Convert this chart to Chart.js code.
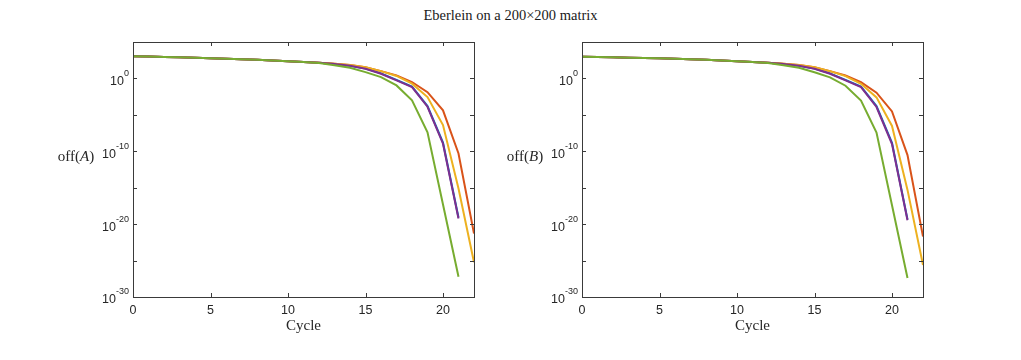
<!DOCTYPE html>
<html>
<head>
<meta charset="utf-8">
<script src="https://cdn.jsdelivr.net/npm/chart.js@4.4.0/dist/chart.umd.min.js"></script>
<style>
  body { margin: 0; background: #fff; width: 1021px; height: 360px; position: relative; overflow: hidden; }
  #title { position: absolute; top: 7px; left: 0; width: 1021px; text-align: center;
           font: 14.5px "Liberation Serif", serif; color: #1a1a1a; }
  .box { position: absolute; top: 0; width: 510px; height: 360px; }
</style>
</head>
<body>
<div id="title">Eberlein on a 200×200 matrix</div>
<div class="box" style="left:0"><canvas id="chartA"></canvas></div>
<div class="box" style="left:449px"><canvas id="chartB"></canvas></div>

<script>
// cycles (x) and tick values
const cycles = [0,1,2,3,4,5,6,7,8,9,10,11,12,13,14,15,16,17,18,19,20,21,22];
const xTicks = [0, 5, 10, 15, 20];
const yTicks = [1e-30, 1e-25, 1e-20, 1e-15, 1e-10, 1e-5, 1e0, 1e5];
const yLabelExps = [-30, -20, -10, 0];

// off(A) per cycle
const aBlue   = [1.12e3,1.0e3,8.9e2,7.9e2,6.9e2,6.0e2,5.1e2,4.4e2,3.6e2,3.0e2,2.3e2,1.8e2,1.4e2,95,56,23,5.0,0.63,7.9e-2,1.6e-4,1.6e-9,8e-20];
const aRed    = [1.12e3,1.0e3,8.9e2,7.9e2,6.9e2,6.0e2,5.1e2,4.4e2,3.6e2,3.0e2,2.3e2,1.8e2,1.4e2,1.05e2,68,35,10,2.6,0.32,1.3e-2,4.2e-5,5e-11,5e-22];
const aYellow = [1.12e3,1.0e3,8.9e2,7.9e2,6.9e2,6.0e2,5.1e2,4.4e2,3.6e2,3.0e2,2.3e2,1.8e2,1.4e2,1.05e2,68,35,10,2.2,0.19,2.8e-3,4e-7,8e-16,6e-26];
const aPurple = [1.12e3,1.0e3,8.9e2,7.9e2,6.9e2,6.0e2,5.1e2,4.4e2,3.6e2,3.0e2,2.3e2,1.8e2,1.4e2,93,54,21,4.4,0.54,6.5e-2,1.3e-4,1.1e-9,6e-20];
const aGreen  = [1.12e3,1.0e3,8.9e2,7.9e2,6.9e2,6.0e2,5.1e2,4.4e2,3.6e2,3.0e2,2.3e2,1.8e2,1.3e2,66,29,7.4,1.5,0.11,1e-3,4e-8,5e-18,6e-28];

// off(B) per cycle
const bBlue   = [9.3e2,8.5e2,7.8e2,7.1e2,6.4e2,5.7e2,5.0e2,4.3e2,3.6e2,3.0e2,2.3e2,1.8e2,1.4e2,95,56,23,5.0,0.63,7.9e-2,1.6e-4,1.5e-9,4.5e-20];
const bRed    = [9.3e2,8.5e2,7.8e2,7.1e2,6.4e2,5.7e2,5.0e2,4.3e2,3.6e2,3.0e2,2.3e2,1.8e2,1.4e2,1.05e2,68,35,10,2.5,0.3,1.1e-2,3e-5,3e-11,2e-22];
const bYellow = [9.3e2,8.5e2,7.8e2,7.1e2,6.4e2,5.7e2,5.0e2,4.3e2,3.6e2,3.0e2,2.3e2,1.8e2,1.4e2,1.05e2,68,35,10,2.1,0.18,2.5e-3,3e-7,5e-16,2.5e-26];
const bPurple = [9.3e2,8.5e2,7.8e2,7.1e2,6.4e2,5.7e2,5.0e2,4.3e2,3.6e2,3.0e2,2.3e2,1.8e2,1.4e2,93,54,21,4.4,0.54,6.3e-2,1.2e-4,1e-9,3.5e-20];
const bGreen  = [9.3e2,8.5e2,7.8e2,7.1e2,6.4e2,5.7e2,5.0e2,4.3e2,3.6e2,3.0e2,2.3e2,1.8e2,1.3e2,66,29,7.2,1.4,0.1,9e-4,3.6e-8,4e-18,4e-28];

const colors = { blue: '#0072BD', red: '#D95319', yellow: '#EDB120', purple: '#7E2F8E', green: '#77AC30' };

const toPoints = vals => vals.map((v, i) => ({ x: cycles[i], y: v }));

// box, inward ticks, 10^n labels and axis titles
const frame = {
  id: 'frame',
  afterDraw(chart, args, opts) {
    const { ctx, chartArea: a, scales: { x, y } } = chart;
    ctx.save();
    ctx.strokeStyle = '#3a3a3a';
    ctx.lineWidth = 1;
    ctx.strokeRect(a.left + 0.5, a.top + 0.5, a.right - a.left, a.bottom - a.top);
    ctx.beginPath();
    xTicks.forEach(v => {
      const px = Math.round(x.getPixelForValue(v)) + 0.5;
      ctx.moveTo(px, a.bottom); ctx.lineTo(px, a.bottom - 4);
      ctx.moveTo(px, a.top); ctx.lineTo(px, a.top + 4);
    });
    yTicks.forEach(v => {
      const py = Math.round(y.getPixelForValue(v)) + 0.5;
      ctx.moveTo(a.left, py); ctx.lineTo(a.left + 4, py);
      ctx.moveTo(a.right, py); ctx.lineTo(a.right - 4, py);
    });
    ctx.stroke();

    ctx.fillStyle = '#262626';
    ctx.textBaseline = 'middle';
    yLabelExps.forEach(e => {
      const py = y.getPixelForValue(Math.pow(10, e));
      const exp = String(e);
      ctx.font = '9px "Liberation Sans", Arial, sans-serif';
      const ew = ctx.measureText(exp).width;
      const xr = a.left - 4;
      ctx.textAlign = 'left';
      ctx.fillText(exp, xr - ew, py - 5);
      ctx.font = '12.5px "Liberation Sans", Arial, sans-serif';
      ctx.textAlign = 'right';
      ctx.fillText('10', xr - ew, py + 3);
    });

    // y title: off(A)
    const serif = '"Liberation Serif", serif';
    const parts = [['off(', '15px ' + serif], [opts.varName, 'italic 15px ' + serif], [')', '15px ' + serif]];
    let total = 0;
    parts.forEach(p => { ctx.font = p[1]; total += ctx.measureText(p[0]).width; });
    let cx = 76 - total / 2;
    ctx.textAlign = 'left';
    parts.forEach(p => { ctx.font = p[1]; ctx.fillText(p[0], cx, 157); cx += ctx.measureText(p[0]).width; });

    // x title
    ctx.font = '15px ' + serif;
    ctx.textAlign = 'center';
    ctx.fillText('Cycle', (a.left + a.right) / 2, 326);
    ctx.restore();
  }
};

function makeChart(id, series, varName) {
  const names = ['blue', 'red', 'yellow', 'purple', 'green'];
  return new Chart(document.getElementById(id), {
    type: 'line',
    data: {
      datasets: series.map((vals, i) => ({
        data: toPoints(vals),
        borderColor: colors[names[i]],
        borderWidth: 2,
        pointRadius: 0,
        fill: false,
        tension: 0,
        order: 4 - i
      }))
    },
    options: {
      responsive: false,
      animation: false,
      events: [],
      layout: { padding: { top: 42, right: 36, left: 0, bottom: 0 } },
      plugins: { legend: { display: false }, tooltip: { enabled: false }, frame: { varName } },
      scales: {
        x: {
          type: 'linear',
          min: 0, max: 22,
          afterBuildTicks: s => { s.ticks = xTicks.map(v => ({ value: v })); },
          afterFit: s => { s.height = 63; },
          grid: { display: false, drawTicks: false },
          border: { display: false },
          ticks: { padding: 6, color: '#262626', font: { family: '"Liberation Sans", Arial, sans-serif', size: 12.5 } }
        },
        y: {
          type: 'logarithmic',
          min: 1e-30, max: 1e5,
          afterBuildTicks: s => { s.ticks = yTicks.map(v => ({ value: v })); },
          afterFit: s => { s.width = 133; },
          grid: { display: false, drawTicks: false },
          border: { display: false },
          ticks: { display: false }
        }
      }
    },
    plugins: [frame]
  });
}

['chartA', 'chartB'].forEach(id => {
  const c = document.getElementById(id);
  c.width = 510; c.height = 360;
  c.style.width = '510px'; c.style.height = '360px';
});

makeChart('chartA', [aBlue, aRed, aYellow, aPurple, aGreen], 'A');
makeChart('chartB', [bBlue, bRed, bYellow, bPurple, bGreen], 'B');
</script>
</body>
</html>
